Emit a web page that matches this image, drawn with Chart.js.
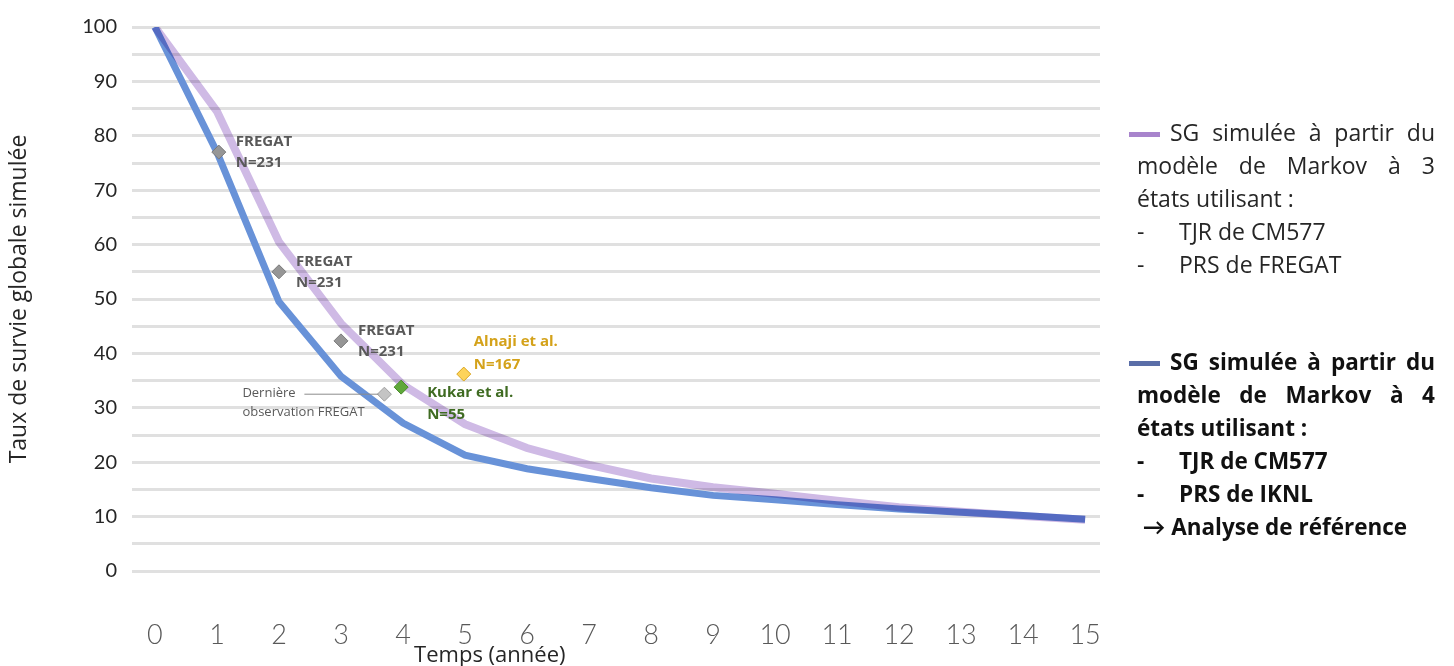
<!DOCTYPE html>
<html>
<head>
<meta charset="utf-8">
<script src="https://cdn.jsdelivr.net/npm/chart.js@4"></script>
<style>
  html, body { margin: 0; padding: 0; background: #fff; }
  #wrap { position: relative; width: 1454px; height: 666px; }
  #chart { position: absolute; left: 0; top: 0; }
  .leg { position: absolute; left: 1137px; width: 298px; font-family: "Open Sans", Lato, sans-serif; font-size: 23px; color: #262626; line-height: 33px; white-space: nowrap; }
  .leg .j { text-align: justify; text-align-last: justify; }
  .leg .sw { display: inline-block; width: 31px; height: 5px; vertical-align: middle; margin-right: 10px; margin-left: -8px; }
  .leg .dash { display: inline-block; width: 42px; }
  #leg2 { font-weight: bold; color: #111; font-size: 22.5px; }
</style>
</head>
<body>
<div id="wrap">
  <canvas id="chart" width="1454" height="666"></canvas>
  <div class="leg" id="leg1" style="top:116px">
    <div class="j"><span class="sw" style="background:#a884cc"></span>SG simulée à partir du</div>
    <div class="j">modèle de Markov à 3</div>
    <div>états utilisant :</div>
    <div><span class="dash">-</span>TJR de CM577</div>
    <div><span class="dash">-</span>PRS de FREGAT</div>
  </div>
  <div class="leg" id="leg2" style="top:345px">
    <div class="j"><span class="sw" style="background:#5a6ea8"></span>SG simulée à partir du</div>
    <div class="j">modèle de Markov à 4</div>
    <div>états utilisant :</div>
    <div><span class="dash">-</span>TJR de CM577</div>
    <div><span class="dash">-</span>PRS de IKNL</div>
    <div>&nbsp;→ Analyse de référence</div>
  </div>
</div>
<script>
// temps en années
const years = [0, 1, 2, 3, 4, 5, 6, 7, 8, 9, 10, 11, 12, 13, 14, 15];
// SG simulée, modèle de Markov à 3 états (TJR CM577 + PRS FREGAT)
const sg3etats = [100, 84.5, 60.5, 45.5, 34.2, 27, 22.6, 19.5, 17, 15.4, 14.2, 12.9, 11.7, 10.9, 10.1, 9.4];
// SG simulée, modèle de Markov à 4 états (TJR CM577 + PRS IKNL)
const sg4etats = [100, 77, 49.5, 35.8, 27.2, 21.3, 18.8, 17, 15.3, 13.9, 13.1, 12.2, 11.4, 10.8, 10.2, 9.5];

// observations
const obsFregat = [{ x: 1.03, y: 77 }, { x: 2, y: 55 }, { x: 3, y: 42.3 }];
const obsDerniere = [{ x: 3.7, y: 32.5 }];
const obsKukar = [{ x: 3.97, y: 33.8 }];
const obsAlnaji = [{ x: 4.98, y: 36.2 }];

const yTicks = [0, 10, 20, 30, 40, 50, 60, 70, 80, 90, 100];

const toPts = arr => arr.map((v, i) => ({ x: years[i], y: v }));

// la courbe violette se mélange à la bleue (multiply)
const blendPurple = {
  id: 'blendPurple',
  beforeDatasetDraw(chart, args) {
    if (args.index === 1) {
      chart.ctx.save();
      chart.ctx.globalCompositeOperation = 'multiply';
    }
  },
  afterDatasetDraw(chart, args) {
    if (args.index === 1) chart.ctx.restore();
  }
};

// étiquettes des points d'observation
const pointLabels = {
  id: 'pointLabels',
  afterDatasetsDraw(chart) {
    const ctx = chart.ctx;
    const xs = chart.scales.x, ys = chart.scales.y;
    const put = (lines, x, y, color, font, lh) => {
      ctx.fillStyle = color;
      ctx.font = font;
      lines.forEach((l, i) => ctx.fillText(l, x, y + i * lh));
    };
    ctx.save();
    ctx.textBaseline = 'middle';
    ctx.textAlign = 'left';
    const bold = 'bold 15px "Open Sans", sans-serif';
    obsFregat.forEach(p => {
      put(['FREGAT', 'N=231'], xs.getPixelForValue(p.x) + 17, ys.getPixelForValue(p.y) - 10, '#595959', bold, 21);
    });
    const a = obsAlnaji[0];
    put(['Alnaji et al.', 'N=167'], xs.getPixelForValue(a.x) + 10, ys.getPixelForValue(a.y) - 32, '#d4a21a', bold, 23);
    const k = obsKukar[0];
    put(['Kukar et al.', 'N=55'], xs.getPixelForValue(k.x) + 26, ys.getPixelForValue(k.y) + 6, '#3f6b22', bold, 22);
    const d = obsDerniere[0];
    const dx = xs.getPixelForValue(d.x), dy = ys.getPixelForValue(d.y);
    ctx.strokeStyle = '#8c8c8c';
    ctx.lineWidth = 1;
    ctx.beginPath();
    ctx.moveTo(dx - 80, dy);
    ctx.lineTo(dx - 6, dy);
    ctx.stroke();
    put(['Dernière', 'observation FREGAT'], dx - 142, dy - 1, '#595959', '13px "Open Sans", sans-serif', 19);
    ctx.restore();
  }
};

// titre de l'axe x (décalé à gauche comme sur l'original)
const xTitle = {
  id: 'xTitle',
  afterDraw(chart) {
    const ctx = chart.ctx;
    ctx.save();
    ctx.font = '22px "Open Sans", sans-serif';
    ctx.fillStyle = '#262626';
    ctx.textAlign = 'center';
    ctx.textBaseline = 'middle';
    ctx.fillText('Temps (année)', chart.scales.x.getPixelForValue(5.4), 656);
    ctx.restore();
  }
};

new Chart(document.getElementById('chart'), {
  type: 'line',
  data: {
    datasets: [
      {
        label: 'SG 4 états',
        data: toPts(sg4etats),
        borderColor: '#6892d8',
        borderWidth: 7,
        pointRadius: 0,
        tension: 0,
        order: 3
      },
      {
        label: 'SG 3 états',
        data: toPts(sg3etats),
        borderColor: '#cfbae5',
        borderWidth: 8,
        pointRadius: 0,
        tension: 0,
        order: 2
      },
      {
        type: 'scatter', label: 'FREGAT', data: obsFregat,
        pointStyle: 'rectRot', pointRadius: 7, backgroundColor: '#969696', borderColor: '#7a7a7a', borderWidth: 1, order: 1
      },
      {
        type: 'scatter', label: 'Dernière observation FREGAT', data: obsDerniere,
        pointStyle: 'rectRot', pointRadius: 7, backgroundColor: '#c4c4c4', borderColor: '#a0a0a0', borderWidth: 1, order: 1
      },
      {
        type: 'scatter', label: 'Kukar et al.', data: obsKukar,
        pointStyle: 'rectRot', pointRadius: 7, backgroundColor: '#5fa83a', borderColor: '#4a8a2c', borderWidth: 1, order: 1
      },
      {
        type: 'scatter', label: 'Alnaji et al.', data: obsAlnaji,
        pointStyle: 'rectRot', pointRadius: 7, backgroundColor: '#fdd35a', borderColor: '#d9a520', borderWidth: 1, order: 1
      }
    ]
  },
  options: {
    responsive: false,
    animation: false,
    layout: { padding: { left: 0, right: 354, top: 24, bottom: 0 } },
    plugins: { legend: { display: false }, tooltip: { enabled: false } },
    scales: {
      x: {
        type: 'linear',
        min: -0.37,
        max: 15.24,
        afterBuildTicks: axis => { axis.ticks = years.map(v => ({ value: v })); },
        afterFit: axis => { axis.height = 95; },
        grid: { display: false },
        border: { display: false },
        ticks: {
          font: { family: 'Lato, "Open Sans", sans-serif', size: 27, weight: 300 },
          color: '#595959',
          padding: 40,
          maxRotation: 0
        }
      },
      y: {
        min: 0,
        max: 100,
        afterBuildTicks: axis => {
          const t = [];
          for (let v = 0; v <= 100; v += 5) t.push({ value: v });
          axis.ticks = t;
        },
        afterFit: axis => { axis.width = 132; },
        grid: { color: '#e0e0e0', lineWidth: 3, drawTicks: false },
        border: { display: false },
        ticks: {
          font: { family: 'Lato, "Open Sans", sans-serif', size: 20 },
          color: '#262626',
          padding: 15,
          callback: v => (yTicks.includes(v) ? v : '')
        },
        title: {
          display: true,
          text: 'Taux de survie globale simulée',
          font: { family: '"Open Sans", Lato, sans-serif', size: 23 },
          color: '#262626',
          padding: { top: 6, bottom: 0 }
        }
      }
    }
  },
  plugins: [blendPurple, pointLabels, xTitle]
});
</script>
</body>
</html>
